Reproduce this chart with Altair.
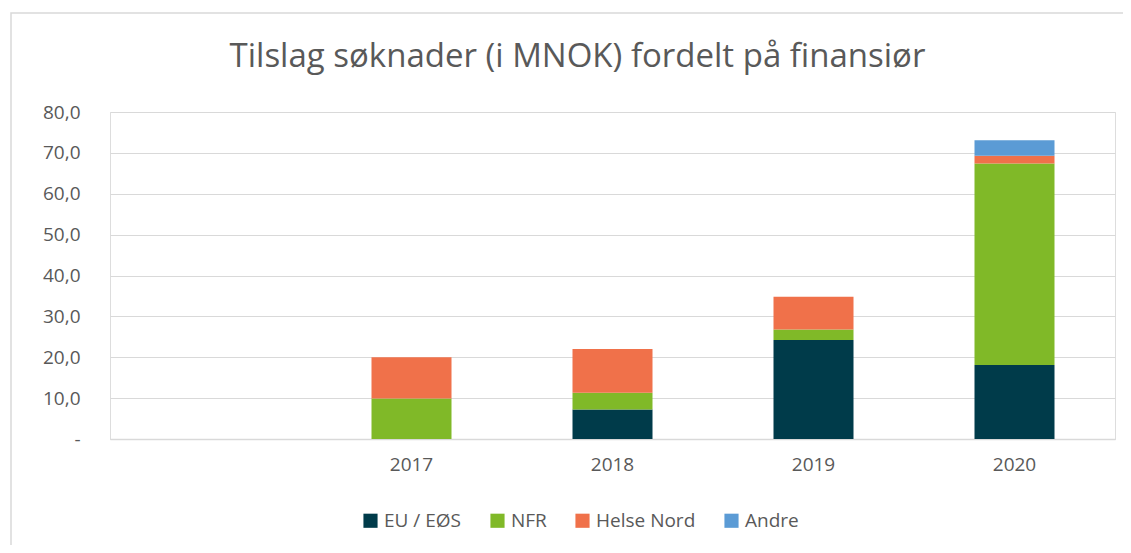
import altair as alt
import pandas as pd

years = [" ", "2017", "2018", "2019", "2020"]
series = ["EU / EØS", "NFR", "Helse Nord", "Andre"]
eu_eos = [0.0, 0.0, 7.2, 24.2, 18.1]
nfr = [0.0, 9.9, 4.1, 2.6, 49.3]
helse_nord = [0.0, 10.1, 10.7, 8.0, 1.9]
andre = [0.0, 0.0, 0.0, 0.0, 3.8]
colors = ["#003B4A", "#80B928", "#F0714A", "#5B9BD5"]

rows = []
for s_i, (name, vals) in enumerate(zip(series, [eu_eos, nfr, helse_nord, andre])):
    for y, v in zip(years, vals):
        rows.append({"year": y, "series": name, "value": v, "order": s_i})
df = pd.DataFrame(rows)

TXT = "#595959"
GRID = "#D9D9D9"
FONT = "Open Sans"

bars = alt.Chart(df).mark_bar(size=80).encode(
    x=alt.X("year:N", scale=alt.Scale(domain=years, paddingInner=0.6, paddingOuter=0.3),
            axis=alt.Axis(title=None, labelAngle=0, ticks=False, domainColor=GRID,
                          domainWidth=1.5, labelPadding=16, labelFontSize=19,
                          labelColor=TXT, labelFont=FONT)),
    y=alt.Y("sum(value):Q", stack="zero", scale=alt.Scale(domain=[0, 80], nice=False),
            axis=alt.Axis(title=None, values=list(range(0, 90, 10)), domain=False, ticks=False,
                          gridColor=GRID, gridWidth=1.2, labelPadding=30, labelFontSize=19,
                          labelColor=TXT, labelFont=FONT,
                          labelExpr="datum.value == 0 ? '-' : replace(format(datum.value, '.1f'), '.', ',')")),
    color=alt.Color("series:N", scale=alt.Scale(domain=series, range=colors),
                    legend=alt.Legend(title=None, orient="none", direction="horizontal",
                                      legendX=251, legendY=399, symbolType="square",
                                      symbolSize=200, symbolStrokeWidth=0, labelFontSize=19,
                                      labelColor=TXT, labelFont=FONT, columnPadding=26,
                                      labelOffset=4, padding=0)),
    order=alt.Order("order:Q", sort="ascending"),
)

frame = alt.Chart(pd.DataFrame({"a": [0]})).mark_rect(
    fill=None, stroke=GRID, strokeWidth=1.5
).encode(
    x=alt.value(-99), x2=alt.value(1040), y=alt.value(-99), y2=alt.value(460)
)

chart = alt.layer(frame, bars).properties(
    width=1005, height=327,
    padding={"left": 102, "top": 104, "right": 8, "bottom": 106},
    autosize=alt.AutoSizeParams(type="none"),
    title=alt.TitleParams("Tilslag søknader (i MNOK) fordelt på finansiør",
                          fontSize=33, font=FONT, fontWeight="normal", color=TXT,
                          anchor="middle", frame="group", dx=-35, offset=-62),
).configure_view(stroke=None).configure(background="white")

chart.save("out.html", embed_options={"renderer": "svg", "actions": False})
